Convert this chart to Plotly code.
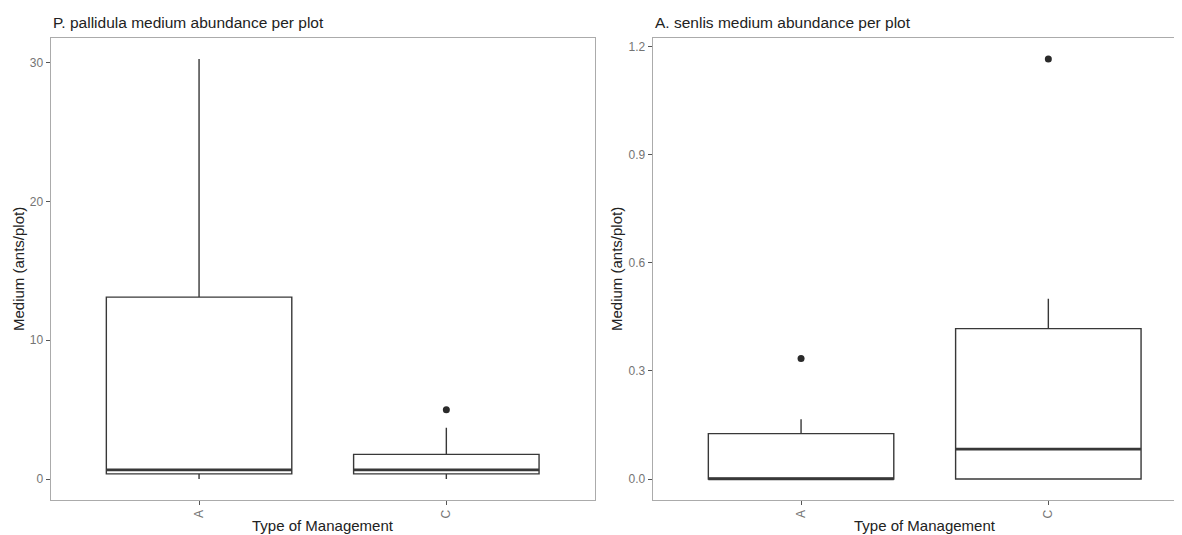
import plotly.graph_objects as go

# ---- data ----
categories = ["A", "C"]
cat_pos = [1, 2]

# P. pallidula (left panel)
pp_q1 = [0.37, 0.37]
pp_median = [0.66, 0.66]
pp_q3 = [13.1, 1.77]
pp_low = [0.0, 0.0]
pp_high = [30.25, 3.69]
pp_out_x = [2]
pp_out_y = [4.99]

# A. senlis (right panel)
as_q1 = [0.0, 0.0]
as_median = [0.0, 0.083]
as_q3 = [0.126, 0.417]
as_low = [0.0, 0.0]
as_high = [0.166, 0.50]
as_out_x = [1, 2]
as_out_y = [0.334, 1.165]

titles = ["P. pallidula medium abundance per plot", "A. senlis medium abundance per plot"]
y_title = "Medium (ants/plot)"
x_title = "Type of Management"

WIN_W, WIN_H = 1182, 535
OFF = 8  # default page body margin
W, H = WIN_W - OFF, WIN_H - OFF
BOXW = 0.75
BOXCOL = "#383838"
BORDER = "#ababab"
TICKCOL = "#555555"
TICKLAB = "#747474"
FONT = "Liberation Sans, Arial, sans-serif"

fig = go.Figure()

def add_panel(q1, med, q3, lo, hi, ox, oy, xa, ya):
    fig.add_trace(go.Box(
        x=cat_pos, q1=q1, median=med, q3=q3, lowerfence=lo, upperfence=hi,
        width=BOXW, fillcolor="white", line=dict(color=BOXCOL, width=1.4),
        whiskerwidth=0, boxpoints=False, xaxis=xa, yaxis=ya, showlegend=False,
        hoverinfo="skip"))
    mx, my = [], []
    for p, m in zip(cat_pos, med):
        mx += [p - BOXW / 2, p + BOXW / 2, None]
        my += [m, m, None]
    fig.add_trace(go.Scatter(x=mx, y=my, mode="lines", line=dict(color=BOXCOL, width=2.6),
                             xaxis=xa, yaxis=ya, showlegend=False, hoverinfo="skip"))
    fig.add_trace(go.Scatter(x=ox, y=oy, mode="markers",
                             marker=dict(color="#2a2a2a", size=7),
                             xaxis=xa, yaxis=ya, showlegend=False))

add_panel(pp_q1, pp_median, pp_q3, pp_low, pp_high, pp_out_x, pp_out_y, "x", "y")
add_panel(as_q1, as_median, as_q3, as_low, as_high, as_out_x, as_out_y, "x2", "y2")

# reference (window) pixel -> paper coords
def px_x(v):
    return (v - OFF) / W

def px_y(v):
    return 1 - (v - OFF) / H

top, bottom = 38, 500
l1, r1 = 50.7, 594.7
l2 = 652.7
unit = (r1 - l1) / 2.2
r2_range = 0.4 + (WIN_W - l2) / unit

common_x = dict(tickmode="array", tickvals=cat_pos, ticktext=categories, tickangle=-90,
                ticks="outside", ticklen=4, tickcolor=TICKCOL, tickwidth=1,
                showline=True, linecolor=BORDER, linewidth=1.3, mirror=True,
                showgrid=False, zeroline=False,
                tickfont=dict(size=12, color=TICKLAB, family=FONT))
common_y = dict(ticks="outside", ticklen=4, tickcolor=TICKCOL, tickwidth=1,
                showline=True, linecolor=BORDER, linewidth=1.3,
                showgrid=False, zeroline=False,
                tickfont=dict(size=12, color=TICKLAB, family=FONT))

pp_max = max(pp_high + pp_out_y)
pp_min = min(pp_low)
pp_pad = 0.05 * (pp_max - pp_min)
as_max = max(as_high + as_out_y)
as_min = min(as_low)
as_pad = 0.05 * (as_max - as_min)

fig.update_layout(
    width=W, height=H, margin=dict(l=0, r=0, t=0, b=0),
    paper_bgcolor="white", plot_bgcolor="white",
    font=dict(family=FONT, color="#222222"),
    xaxis=dict(domain=[px_x(l1), px_x(r1)], range=[0.4, 2.6], anchor="y", **common_x),
    yaxis=dict(domain=[px_y(bottom), px_y(top)], range=[pp_min - pp_pad, pp_max + pp_pad],
               anchor="x", mirror=True, tickvals=[0, 10, 20, 30], **common_y),
    xaxis2=dict(domain=[px_x(l2), 1.0], range=[0.4, r2_range], anchor="y2", **common_x),
    yaxis2=dict(domain=[px_y(bottom), px_y(top)], range=[as_min - as_pad, as_max + as_pad],
                anchor="x2", mirror=False, tickvals=[0, 0.3, 0.6, 0.9, 1.2],
                tickformat=".1f", **common_y),
)

ann = []
for t, xl in zip(titles, [l1, l2]):
    ann.append(dict(text=t, x=px_x(xl), y=px_y(22), xref="paper", yref="paper",
                    xanchor="left", yanchor="middle", showarrow=False,
                    font=dict(size=15.5, color="#222222", family=FONT)))
for xc in [18, 616]:
    ann.append(dict(text=y_title, x=px_x(xc), y=px_y((top + bottom) / 2), xref="paper",
                    yref="paper", xanchor="center", yanchor="middle", textangle=-90,
                    showarrow=False, font=dict(size=15, color="#222222", family=FONT)))
for xc in [(l1 + r1) / 2, l2 + 1.1 * unit]:
    ann.append(dict(text=x_title, x=px_x(xc), y=px_y(525), xref="paper", yref="paper",
                    xanchor="center", yanchor="middle", showarrow=False,
                    font=dict(size=15, color="#222222", family=FONT)))
fig.update_layout(annotations=ann)

fig.write_html("out.html")
